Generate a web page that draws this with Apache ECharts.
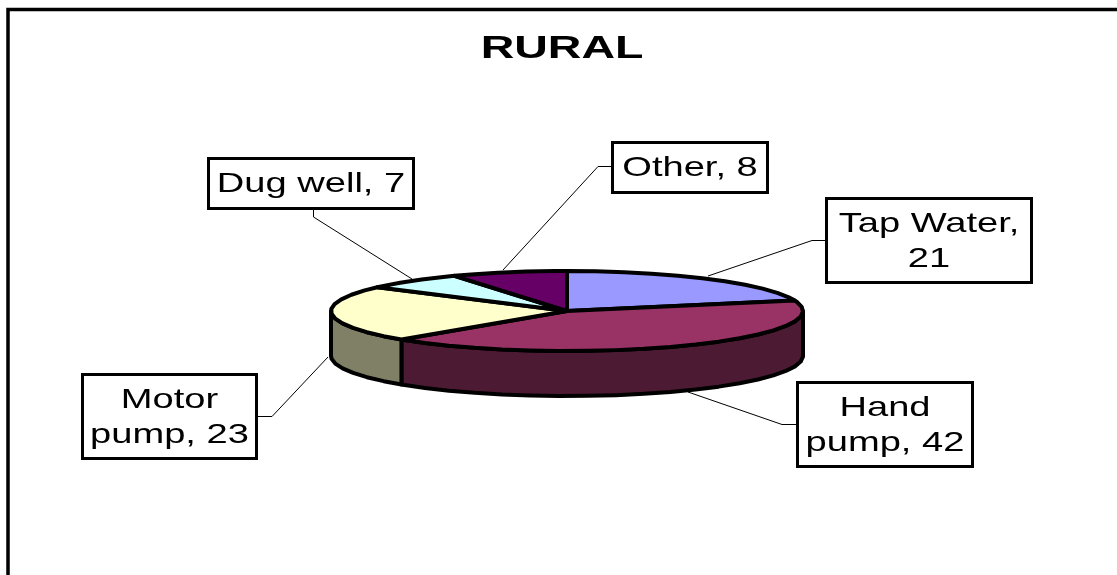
<!DOCTYPE html>
<html>
<head>
<meta charset="utf-8">
<style>html,body{margin:0;padding:0;background:#fff}#c{width:1117px;height:575px}</style>
<script src="https://cdn.jsdelivr.net/npm/echarts@6/dist/echarts.min.js"></script>
</head>
<body>
<div id="c"></div>
<script>
const chartTitle = 'RURAL';
const categories = ['Tap Water', 'Hand pump', 'Motor pump', 'Dug well', 'Other'];
const values = [21, 42, 23, 7, 8];
const topColors = ['#9999FF', '#993366', '#FFFFCC', '#CCFFFF', '#660066'];
const sideColors = ['#4D4D80', '#4D1A33', '#808066', '#668080', '#330033'];

// Layout of the 3D pie and its callouts
const CX = 567, CY = 311, RX = 236, RY = 40, DEPTH = 45, STEP = 7;
const boxes = [[826,198,206,85],[797,382,176,85],[82,374,175,85],[208,158,206,51],[612,142,156,51]];
const leaders = [
  [[826,240.5],[812,240.5],[708,276]],
  [[797,424.5],[782,424.5],[688,392]],
  [[257,416.5],[272,416.5],[328,357]],
  [[313.5,209],[313.5,217],[412,279]],
  [[612,166.5],[598,166.5],[503,270]]
];
const breakAfterWord = [2, 1, 1, 0, 0];
const TEXT_SX = 1.36;

const total = values.reduce((a, b) => a + b, 0);
const starts = [];
values.reduce((acc, v, i) => { starts[i] = acc; return acc + v; }, 0);
const ang = v => v / total * 360;
const pt = (deg, dy) => {
  const r = deg * Math.PI / 180;
  return [CX + RX * Math.sin(r), CY - RY * Math.cos(r) + (dy || 0)];
};
function arc(a0, a1, dy) {
  const out = [];
  const first = Math.ceil(a0 / STEP) * STEP;
  out.push(pt(a0, dy));
  for (let a = first; a < a1; a += STEP) if (a > a0) out.push(pt(a, dy));
  out.push(pt(a1, dy));
  return out;
}
const stroke = { stroke: '#000', lineWidth: 4, lineJoin: 'round' };

function renderWall(params, api) {
  const i = params.dataIndex;
  const a0 = Math.max(ang(starts[i]), 90), a1 = Math.min(ang(starts[i] + api.value(0)), 270);
  if (a1 <= a0) return { type: 'group', children: [] };
  const pts = arc(a0, a1, 0).concat(arc(a0, a1, DEPTH).reverse());
  return { type: 'polygon', shape: { points: pts }, style: Object.assign({ fill: sideColors[i] }, stroke) };
}
function renderTop(params, api) {
  const i = params.dataIndex;
  const a0 = ang(starts[i]), a1 = ang(starts[i] + api.value(0));
  return { type: 'polygon', shape: { points: [[CX, CY]].concat(arc(a0, a1, 0)) },
           style: Object.assign({ fill: topColors[i] }, stroke) };
}
function renderCallout(params, api) {
  const i = params.dataIndex;
  const words = (categories[i] + ', ' + api.value(0)).split(' ');
  const n = breakAfterWord[i];
  const text = n ? words.slice(0, n).join(' ') + '\n' + words.slice(n).join(' ') : words.join(' ');
  const b = boxes[i];
  return { type: 'group', children: [
    { type: 'polyline', shape: { points: leaders[i] }, style: { stroke: '#000', lineWidth: 1, fill: null } },
    { type: 'rect', shape: { x: b[0] + .5, y: b[1] + .5, width: b[2] - 1, height: b[3] - 1 },
      style: { fill: '#fff', stroke: '#000', lineWidth: 3 } },
    { type: 'text', x: b[0] + b[2] / 2, y: b[1] + b[3] / 2 + 1, scaleX: TEXT_SX, scaleY: 1,
      style: { text: text, fill: '#000', font: '28px "Liberation Sans"', lineHeight: 35,
               align: 'center', verticalAlign: 'middle' } }
  ] };
}
const seriesData = values.map((v, i) => ({ name: categories[i], value: [v] }));
const chart = echarts.init(document.getElementById('c'), null, { renderer: 'canvas' });
chart.setOption({
  animation: false,
  backgroundColor: '#fff',
  tooltip: { show: false },
  graphic: [
    { type: 'rect', z: 0, shape: { x: 8, y: 9.5, width: 1300, height: 900 },
      style: { fill: '#fff', stroke: '#000', lineWidth: 3.5 } },
    { type: 'text', z: 10, x: 562, y: 49, scaleX: 1.5, scaleY: 1,
      style: { text: chartTitle, fill: '#000', font: 'bold 31px "Liberation Sans"',
               align: 'center', verticalAlign: 'middle' } }
  ],
  series: [
    { type: 'custom', coordinateSystem: 'none', z: 2, renderItem: renderCallout, data: seriesData, silent: true },
    { type: 'custom', coordinateSystem: 'none', z: 3, renderItem: renderWall, data: seriesData, silent: true },
    { type: 'custom', coordinateSystem: 'none', z: 4, renderItem: renderTop, data: seriesData, silent: true }
  ]
});
</script>
</body>
</html>
